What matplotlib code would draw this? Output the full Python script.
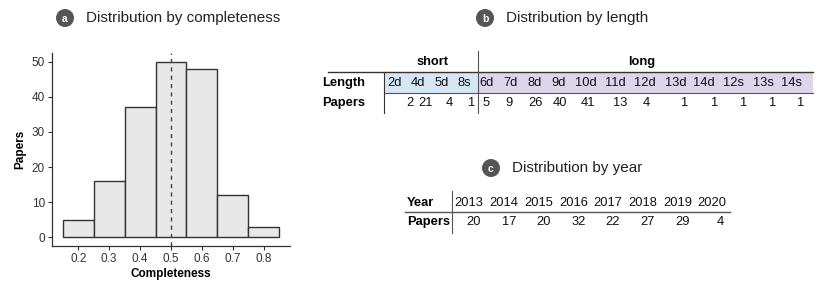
import matplotlib
matplotlib.use("Agg")
import matplotlib.pyplot as plt
from matplotlib.patches import Circle, Rectangle

plt.rcParams['font.family'] = ['Liberation Sans', 'DejaVu Sans']

# data
completeness_bins = [0.2, 0.3, 0.4, 0.5, 0.6, 0.7, 0.8]
completeness_papers = [5, 16, 37, 50, 48, 12, 3]
completeness_mean = 0.5

length_groups = ['short', 'long']
length_short = ['2d', '4d', '5d', '8s']
length_long = ['6d', '7d', '8d', '9d', '10d', '11d', '12d', '13d', '14d', '12s', '13s', '14s']
length_papers = [2, 21, 4, 1, 5, 9, 26, 40, 41, 13, 4, 1, 1, 1, 1, 1]

years = ['2013', '2014', '2015', '2016', '2017', '2018', '2019', '2020']
year_papers = [20, 17, 20, 32, 22, 27, 29, 4]

W, H = 831, 287
fig = plt.figure(figsize=(W / 100, H / 100), dpi=100)

# overlay for titles and tables, in pixel coordinates
ov = fig.add_axes([0, 0, 1, 1])
ov.set_xlim(0, W)
ov.set_ylim(H, 0)
ov.axis('off')

def panel_title(x, y, letter, text):
    ov.add_patch(Circle((x, y), 9, color='#555555', lw=0))
    ov.text(x, y + 0.5, letter, color='white', fontsize=7.5, fontweight='bold',
            ha='center', va='center')
    ov.text(x + 21, y, text, fontsize=11, color='#222222', ha='left', va='center')

panel_title(65, 18, 'a', 'Distribution by completeness')
panel_title(485, 18, 'b', 'Distribution by length')
panel_title(491, 168, 'c', 'Distribution by year')

# ---- a: histogram
ax = fig.add_axes([52 / W, 1 - 246 / H, (290 - 52) / W, (246 - 53) / H])
ax.bar(completeness_bins, completeness_papers, width=0.1, color='#e8e8e8',
       edgecolor='#333333', linewidth=1.0)
ax.axvline(completeness_mean, color='#444444', linestyle=(0, (3, 3)), linewidth=1.0)
ax.set_xlim(0.115, 0.885)
ax.set_ylim(-2.5, 52.5)
ax.set_xticks(completeness_bins)
ax.set_xticklabels([f'{v:.1f}' for v in completeness_bins])
ax.set_yticks([0, 10, 20, 30, 40, 50])
for s in ['top', 'right']:
    ax.spines[s].set_visible(False)
for s in ['left', 'bottom']:
    ax.spines[s].set_color('#333333')
    ax.spines[s].set_linewidth(0.9)
ax.tick_params(labelsize=8.5, colors='#333333', length=3, width=0.8, pad=2)
ax.tick_params(labelcolor='#333333')
ax.set_xlabel('Completeness', fontsize=8.5, fontweight='bold', labelpad=2)
ax.set_ylabel('Papers', fontsize=8.5, fontweight='bold', labelpad=4)
ax.set_facecolor('none')

# ---- b: length table
fs = 9.3
len_labels = length_short + length_long
len_cx = [394, 418, 442, 464, 487, 511, 535, 559, 586, 615, 645, 676, 704, 734, 763, 792]
num_rx = [414, 433, 453, 475, 490, 513, 543, 567, 595, 627, 650, 688, 718, 747, 776, 804]
row_len, row_pap, row_grp = 83, 103, 62
split = 478
ov.add_patch(Rectangle((384, 72), split - 384, 21, color='#d6e6f4', lw=0))
ov.add_patch(Rectangle((split, 72), 813 - split, 21, color='#ddd6ea', lw=0))
ov.plot([328, 813], [72, 72], color='#333333', lw=1.0)
ov.plot([384, 813], [93, 93], color='#555555', lw=0.8)
ov.plot([384, 384], [72, 113], color='#333333', lw=0.8)
ov.plot([split, split], [51, 113], color='#555555', lw=0.8)
ov.text(433, row_grp, length_groups[0], fontsize=fs, fontweight='bold', ha='center', va='center')
ov.text(642, row_grp, length_groups[1], fontsize=fs, fontweight='bold', ha='center', va='center')
ov.text(322, row_len, 'Length', fontsize=fs, fontweight='bold', ha='left', va='center')
ov.text(322, row_pap, 'Papers', fontsize=fs, fontweight='bold', ha='left', va='center')
for lab, cx, rx, n in zip(len_labels, len_cx, num_rx, length_papers):
    ov.text(cx, row_len, lab, fontsize=fs, ha='center', va='center', color='#111111')
    ov.text(rx, row_pap, str(n), fontsize=fs, ha='right', va='center', color='#111111')

# ---- c: year table
year_cx = [469, 504, 539, 574, 608, 643, 678, 712]
row_y, row_yp = 203, 222
ov.plot([405, 730], [212, 212], color='#555555', lw=1.0)
ov.plot([452, 452], [191, 233], color='#555555', lw=0.8)
ov.text(407, row_y, 'Year', fontsize=fs, fontweight='bold', ha='left', va='center')
ov.text(407, row_yp, 'Papers', fontsize=fs, fontweight='bold', ha='left', va='center')
for yr, cx, n in zip(years, year_cx, year_papers):
    ov.text(cx, row_y, yr, fontsize=fs, ha='center', va='center', color='#111111')
    ov.text(cx + 12, row_yp, str(n), fontsize=fs, ha='right', va='center', color='#111111')

fig.savefig('out.png', dpi=100)
